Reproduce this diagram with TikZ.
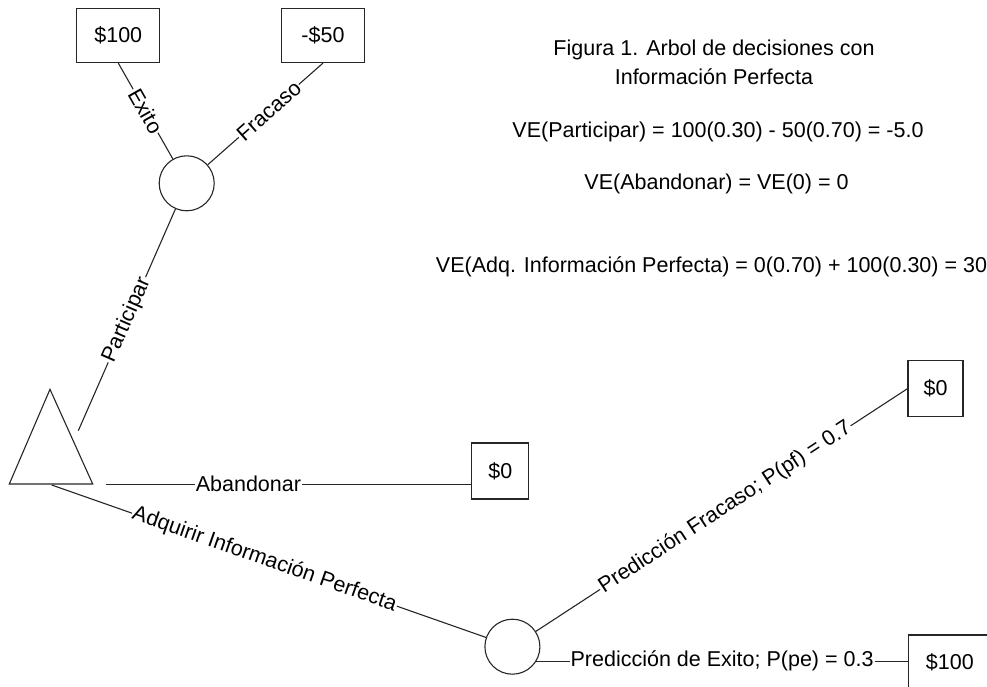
\documentclass[tikz,border=0pt]{standalone}
\usepackage{fontspec}
\setmainfont{Liberation Sans}
\begin{document}
\begin{tikzpicture}[x=1pt,y=-1pt,
  every node/.style={font=\fontsize{21.5}{28.4}\selectfont},
  ln/.style={draw=black!85,line width=1.1pt},
  payoff/.style={draw=black!85,line width=1.2pt,inner sep=0pt},
  chance/.style={circle,draw=black!85,line width=1.1pt,minimum size=55pt,inner sep=0pt},
  lbl/.style={fill=white,inner sep=1pt},
  slbl/.style={fill=white,inner sep=1pt,sloped}]
\useasboundingbox (0,0) rectangle (987,687);
\clip (0,0) rectangle (987,687);
% payoff boxes
\node[payoff,minimum width=83pt,minimum height=54pt] (b100) at (118.3,35.5) {\$100};
\node[payoff,minimum width=83pt,minimum height=54pt] (b50) at (323,35.5) {-\$50};
\node[payoff,minimum width=57pt,minimum height=56pt] (b0a) at (500.3,471) {\$0};
\node[payoff,minimum width=55pt,minimum height=56pt] (b0b) at (935.5,388.7) {\$0};
\node[payoff,minimum width=83pt,minimum height=54pt] (b100b) at (949.8,662) {\$100};
% chance nodes
\node[chance] (c1) at (186.7,183.3) {};
\node[chance] (c2) at (512.4,646.7) {};
% decision triangle
\coordinate (tl) at (9.3,484);
\coordinate (ta) at (50,389.3);
\coordinate (tr) at (92.7,484);
\draw[ln] (tl) -- (ta) -- (tr) -- cycle;
\coordinate (tP) at (78.3,430.7);
\coordinate (aS) at (106,484.3);
\coordinate (qS) at (51.7,485);
% connectors
\draw[ln] (b100.south) -- node[slbl,pos=0.5] {Exito} (c1);
\draw[ln] (b50.south) -- node[slbl,pos=0.47] {Fracaso} (c1);
\draw[ln] (c1) -- node[slbl,pos=0.5] {Participar} (tP);
\draw[ln] (aS) -- node[lbl,pos=0.39] {Abandonar} (b0a.west |- aS);
\draw[ln] (qS) -- node[slbl,pos=0.49] {Adquirir Información Perfecta} (c2);
\draw[ln] (c2) -- node[slbl,pos=0.51] {Predicción Fracaso; P(pf) = 0.7} (b0b.west);
\draw[ln] (c2.-31) -- node[lbl,pos=0.5] {Predicción de Exito; P(pe) = 0.3} (c2.-31 -| b100b.west);
% text
\node[align=center] (title) at (714,62.5) {Figura 1. Arbol de decisiones con\\Información Perfecta};
\node (vep) at (718,132) {VE(Participar) = 100(0.30) - 50(0.70) = -5.0};
\node (vea) at (716.5,184) {VE(Abandonar) = VE(0) = 0};
\node[inner sep=0pt] (veq) at (711.5,266.7) {VE(Adq. Información Perfecta) = 0(0.70) + 100(0.30) = 30};
\end{tikzpicture}
\end{document}
